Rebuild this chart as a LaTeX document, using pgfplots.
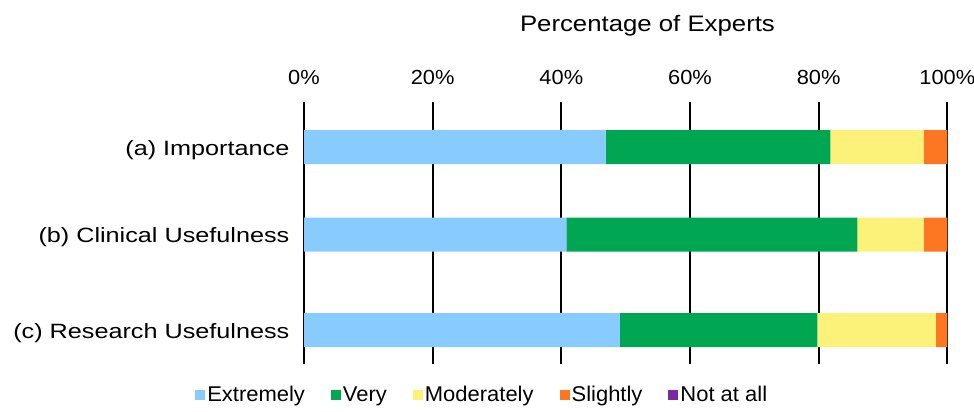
\documentclass[border=0pt]{standalone}
\usepackage{pgfplots}
\pgfplotsset{compat=1.18}
\usepackage{pgfplotstable}
\usepackage{fontspec}
\setmainfont{Liberation Sans}
\newfontfamily\catfont[FakeStretch=1.22]{Liberation Sans}
\newfontfamily\tickfontfam[FakeStretch=1.07]{Liberation Sans}
\newfontfamily\titlefontfam[FakeStretch=1.15]{Liberation Sans}
\newfontfamily\legfontfam[FakeStretch=1.03]{Liberation Sans}
\definecolor{cExt}{RGB}{136,204,255}
\definecolor{cVery}{RGB}{0,166,81}
\definecolor{cMod}{RGB}{252,242,122}
\definecolor{cSl}{RGB}{253,119,34}
\definecolor{cNot}{RGB}{125,40,160}
\pgfplotstableread{
pos   ext   very  mod   sl   not
147   46.9  34.9  14.5  3.7  0
234.7 40.8  45.2  10.3  3.7  0
330   49.1  30.7  18.4  1.8  0
}\datatab
\begin{document}
\begin{tikzpicture}
\path[use as bounding box] (0,0) rectangle (730.5pt,308.25pt);
\node[anchor=base, inner sep=0pt, font=\titlefontfam\fontsize{16.8}{18}\selectfont] at (485.6pt,284.5pt) {Percentage of Experts};
\begin{axis}[
  at={(228pt,231.75pt)}, anchor=north west,
  scale only axis,
  width=482.5pt, height=196.5pt,
  xbar stacked,
  bar width=25.5pt,
  xmin=0, xmax=100,
  ymin=102, ymax=364,
  y dir=reverse,
  axis line style={draw=none},
  major tick style={draw=none},
  xtick={0,20,40,60,80,100},
  xticklabels={0\%,20\%,40\%,60\%,80\%,100\%},
  xticklabel pos=upper,
  xmajorgrids,
  grid style={black, line width=1.5pt},
  xticklabel style={font=\tickfontfam\fontsize{15.3}{17}\selectfont, anchor=base, inner sep=0pt, yshift=13.3pt},
  ytick={147,234.7,330},
  yticklabels={(a) Importance,(b) Clinical Usefulness,(c) Research Usefulness},
  yticklabel style={font=\catfont\fontsize{15.5}{17}\selectfont, anchor=base east, inner sep=0pt, xshift=-10.8pt, yshift=-6pt},
  legend columns=5,
  legend style={at={(-0.1694,-0.1183)}, anchor=west, draw=none, fill=none, inner sep=0pt,
    font=\legfontfam\fontsize{16}{18}\selectfont,
    nodes={inner sep=1.5pt},
    /tikz/every odd column/.append style={column sep=0pt},
    /tikz/every even column/.append style={column sep=18pt}},
  legend image code/.code={\fill[#1] (0pt,-3.75pt) rectangle (7.5pt,3.75pt);},
]
\addplot[fill=cExt, draw=none] table[x=ext, y=pos] {\datatab};
\addplot[fill=cVery, draw=none] table[x=very, y=pos] {\datatab};
\addplot[fill=cMod, draw=none] table[x=mod, y=pos] {\datatab};
\addplot[fill=cSl, draw=none] table[x=sl, y=pos] {\datatab};
\addplot[fill=cNot, draw=none] table[x=not, y=pos] {\datatab};
\legend{Extremely,Very,Moderately,Slightly,Not at all}
\end{axis}
\end{tikzpicture}
\end{document}
